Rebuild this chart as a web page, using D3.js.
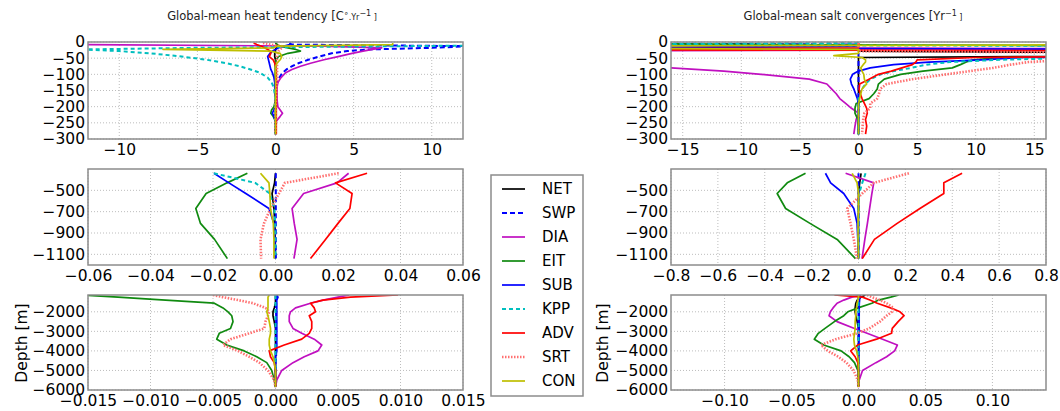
<!DOCTYPE html>
<html>
<head>
<meta charset="utf-8">
<script src="https://cdn.jsdelivr.net/npm/d3@7"></script>
<style>
  body { margin: 0; background: #fff; }
  text { font-family: "DejaVu Sans", sans-serif; }
</style>
</head>
<body>
<svg id="chart" width="1060" height="411"></svg>
<script>
// series, in legend order
const seriesNames = ["NET", "SWP", "DIA", "EIT", "SUB", "KPP", "ADV", "SRT", "CON"];

// ---- upper 300 m ----
const heatTopDepth = [-3, -8, -13, -18, -23, -28, -35, -45, -55, -65, -75, -85, -95, -110, -125, -140, -160, -180, -200, -210, -220, -230, -245, -265, -285];
const heatTop = {
  NET: [0, 0.1, 0.1, 0.05, 0, 0, -0.05, -0.05, 0, 0, 0, 0, 0, 0, 0, 0, 0, 0, 0, 0, 0, 0, 0, 0, 0],
  SWP: [0.9, 1.0, 12.5, 10, 6, 4.6, 3.6, 2.8, 2.1, 1.5, 1.05, 0.7, 0.45, 0.25, 0.12, 0.06, 0.03, 0, 0, 0, 0, 0, 0, 0, 0],
  DIA: [-13, -13, 3, 6.8, 6.2, 5.6, 4.9, 4.0, 3.1, 2.3, 1.6, 1.05, 0.65, 0.35, 0.15, 0.1, 0.1, 0.1, 0.15, 0.3, 0.45, 0.3, 0.05, 0, 0],
  EIT: [0, 0.1, 0.3, 0.8, 1.3, 1.6, 0.8, 0.2, 0.05, 0, 0, 0, 0, 0, 0, 0, 0, 0, -0.1, -0.25, -0.3, -0.15, 0, 0, 0],
  SUB: [1.0, 0.9, 0.5, 0.2, 0, -0.2, -0.35, -0.5, -0.45, -0.4, -0.35, -0.3, -0.2, -0.1, -0.05, -0.05, -0.02, 0, 0, -0.1, -0.2, -0.1, 0, 0, 0],
  KPP: [20, 20, 8, -5, -12.5, -10, -8, -6, -4.4, -3.2, -2.3, -1.6, -1.0, -0.5, -0.25, -0.12, -0.05, -0.02, 0, 0, 0, 0, 0, 0, 0],
  ADV: [-1.4, -1.2, -0.9, -0.7, -0.5, -0.35, -0.3, -0.4, -0.15, -0.05, 0, 0.05, 0.05, 0.05, 0.05, 0.05, 0.05, 0.05, 0.05, 0.05, 0.05, 0.05, 0.05, 0.05, 0.05],
  SRT: [-0.8, -0.3, 0.4, 0.4, 0.3, 0.2, 0.15, 0.1, 0.1, 0.1, 0.1, 0.1, 0.1, 0.1, 0.1, 0.05, 0.05, 0.03, 0, 0, 0, 0, 0, 0, 0],
  CON: [7.5, 7.5, 0.1, -0.1, -7.2, -0.3, 0.3, 0.4, 0.3, 0.1, 0, 0, 0, 0, 0, 0, 0, 0, 0, 0, 0, 0, 0, 0, 0]
};

const saltTopDepth = [-3, -8, -13, -18, -23, -28, -35, -42, -48, -55, -62, -70, -80, -90, -100, -115, -130, -145, -160, -175, -190, -205, -220, -240, -260, -285];
const saltTop = {
  NET: [0, 0, 0, 0, 0, 0, 30, 30, 0, 0, 0, 0, 0, 0, 0, 0, 0, 0, 0, 0, 0, 0, 0, 0, 0, 0],
  SWP: [-30, 0, 0, 0, 0, 0, 0, 0, 0, 0, 0, 0, 0, 0, 0, 0, 0, 0, 0, 0, 0, 0, 0, 0, 0, 0],
  DIA: [0, 0, 0, 0, 30, -30, -30, -30, -30, -30, -30, -22, -16, -11.5, -8.3, -4.2, -2.7, -2.3, -1.9, -1.6, -1.1, -0.6, 0, -0.2, -0.3, -0.4],
  EIT: [-30, -5, 30, 30, 30, 30, 30, 25, 12, 9.8, 9.2, 8.7, 8.0, 5.5, 3.6, 2.2, 1.7, 1.6, 1.3, 0.9, -0.2, -0.3, -0.3, -0.05, 0, 0],
  SUB: [0, 0, 0, -30, 30, 30, 30, 30, 14, 10.5, 6, 3.0, 1.0, 0, -0.5, -0.7, -0.6, -0.4, -0.25, -0.1, 0, 0, 0, 0, 0, 0],
  KPP: [0, -30, 30, 30, 30, 30, 30, 30, 20, 12, 7.8, 5.8, 4.5, 3.0, 1.9, 1.0, 0.6, 0.3, 0.1, 0, 0, 0, 0, 0, 0, 0],
  ADV: [0, 0, 0, 0, -30, 30, 30, 30, 10, 5.0, 4.9, 4.6, 3.7, 2.8, 1.7, 0.9, 0.1, 0.05, 0.15, 0.3, 0.5, 0.7, 0.75, 0.6, 0.7, 0.6],
  SRT: [0, 0, 0, 0, 0, 0, 30, 30, 25, 18, 14.5, 13, 11.5, 9.5, 7.5, 4.6, 2.4, 1.85, 1.75, 1.6, 1.0, 1.0, 0.5, 0.4, 0.35, 0.3],
  CON: [30, 30, -30, -30, 0, 0, 0, -2.1, 0.3, 0.6, 0.6, 0.4, 0.2, 0.3, 0.45, 0.5, 0.7, 0.3, 0.2, 0.1, 0, 0, 0, 0, 0, 0]
};

// ---- 300 to 1200 m ----
const midDepth = [-340, -430, -530, -670, -810, -960, -1140];
const heatMid = {
  NET: [0, -0.0003, -0.0011, -0.0005, -0.0002, -0.0001, 0],
  SWP: [0.0001, 0.0001, 0.0001, 0.0001, 0.0001, 0.0001, 0.0001],
  DIA: [0.0234, 0.0197, 0.0090, 0.0053, 0.0060, 0.0069, 0.0059],
  EIT: [-0.0090, -0.0155, -0.0222, -0.0255, -0.0240, -0.0195, -0.0154],
  SUB: [-0.0197, -0.0149, -0.0095, -0.0021, -0.0005, -0.0002, -0.0001],
  KPP: [-0.0197, -0.0065, -0.0018, -0.0004, -0.0001, 0, 0],
  ADV: [0.0293, 0.0192, 0.0245, 0.0238, 0.0200, 0.0160, 0.0112],
  SRT: [0.0202, 0.0030, 0.0011, -0.0016, -0.0037, -0.0048, -0.0046],
  CON: [-0.0048, -0.0021, -0.0018, -0.0016, -0.0007, -0.0005, -0.0005]
};
const saltMid = {
  NET: [0.011, 0.005, 0, 0, 0, 0, 0],
  SWP: [0, 0, 0, 0, 0, 0, 0],
  DIA: [-0.055, 0.065, 0.057, 0.0475, 0.038, 0.027, 0.015],
  EIT: [-0.226, -0.304, -0.347, -0.311, -0.207, -0.091, -0.013],
  SUB: [-0.141, -0.119, -0.063, -0.020, -0.006, -0.003, -0.001],
  KPP: [0.030, 0.016, 0.003, 0, 0, 0, 0],
  ADV: [0.442, 0.364, 0.364, 0.262, 0.165, 0.068, 0.016],
  SRT: [0.215, 0.065, 0.016, -0.048, -0.034, -0.020, -0.006],
  CON: [-0.027, -0.006, 0, 0, -0.002, -0.002, 0]
};

// ---- below 1140 m ----
const deepDepth = [-1140, -1250, -1400, -1560, -1800, -2000, -2200, -2500, -2850, -3100, -3400, -3700, -4000, -4300, -4600, -5000, -5500, -5850];
const heatDeep = {
  NET: [0, 0, 0, 0, -0.0001, -0.0002, -0.0002, -0.0001, 0, 0, 0, 0, 0, 0, 0, 0, 0, 0],
  SWP: [0.00005, 0.00005, 0.00005, 0.00005, 0.00005, 0.00005, 0.00005, 0.00005, 0.00005, 0.00005, 0.00005, 0.00005, 0.00005, 0.00005, 0, 0, 0, 0],
  DIA: [0.0059, 0.0050, 0.0038, 0.0028, 0.0016, 0.0012, 0.0011, 0.0011, 0.0014, 0.0021, 0.0031, 0.0037, 0.0034, 0.0023, 0.0014, 0.0005, 0.0001, 0],
  EIT: [-0.0154, -0.0126, -0.0088, -0.0049, -0.0042, -0.0038, -0.0035, -0.0034, -0.0036, -0.0045, -0.0047, -0.0039, -0.0025, -0.0015, -0.0007, -0.0003, -0.0001, 0],
  SUB: [0.0001, 0.0002, 0.0001, 0.0001, 0.0001, 0.0001, 0.0001, 0.0001, 0.0001, 0.0001, 0.0001, 0.0001, 0.0001, 0, 0, 0, 0, 0],
  KPP: [0, 0, 0, 0, 0, 0, 0, 0, 0, 0, 0, 0, 0, 0, 0, 0, 0, 0],
  ADV: [0.0098, 0.0060, 0.0038, 0.0028, 0.0031, 0.0032, 0.0027, 0.0029, 0.0029, 0.0027, 0.0021, 0.0007, -0.0005, -0.0004, -0.0001, 0, 0, 0],
  SRT: [-0.0050, -0.0042, -0.0030, -0.0018, -0.0008, -0.0005, -0.0006, -0.0008, -0.0009, -0.0021, -0.0036, -0.0042, -0.0030, -0.0021, -0.0013, -0.0006, -0.0001, 0],
  CON: [-0.0005, -0.0006, -0.0006, -0.0006, -0.0006, -0.0007, -0.0006, -0.0005, -0.0004, -0.0004, -0.0005, -0.0005, -0.0004, -0.0002, -0.0001, 0, 0, 0]
};
const saltDeep = {
  NET: [0.005, 0.002, -0.001, -0.002, -0.0025, -0.0025, -0.002, -0.001, 0, 0, 0, 0, 0, 0, 0, 0, 0, 0],
  SWP: [0, 0, 0, 0, 0, 0, 0, 0, 0, 0, 0, 0, 0, 0, 0, 0, 0, 0],
  DIA: [0.002, -0.005, -0.011, -0.016, -0.019, -0.021, -0.022, -0.016, -0.003, 0.0064, 0.018, 0.029, 0.027, 0.021, 0.013, 0.003, 0.0005, 0],
  EIT: [0.030, 0.024, 0.015, 0.010, -0.0003, -0.008, -0.011, -0.018, -0.025, -0.030, -0.033, -0.026, -0.013, -0.007, -0.003, -0.0005, 0, 0],
  SUB: [0.001, 0.001, 0.0008, 0.0006, 0.0005, 0.0005, 0.0005, 0.0005, 0.0005, 0.0005, 0.0004, 0.0003, 0.0002, 0.0001, 0, 0, 0, 0],
  KPP: [0, 0, 0, 0, 0, 0, 0, 0, 0, 0, 0, 0, 0, 0, 0, 0, 0, 0],
  ADV: [-0.018, 0.003, 0.0085, 0.014, 0.024, 0.031, 0.034, 0.0296, 0.0252, 0.0247, 0.0135, -0.0007, -0.0058, -0.0025, -0.0005, 0, 0, 0],
  SRT: [0.0065, 0.010, 0.016, 0.021, 0.026, 0.025, 0.021, 0.016, 0.008, -0.001, -0.017, -0.028, -0.023, -0.015, -0.009, -0.0037, -0.0005, 0],
  CON: [0, 0, -0.0005, -0.001, -0.0015, -0.002, -0.002, -0.0025, -0.0025, -0.003, -0.0035, -0.003, -0.0015, -0.0005, 0, 0, 0, 0]
};

// tick values
const heatTopTicks = [-10, -5, 0, 5, 10];
const heatMidTicks = [-0.06, -0.04, -0.02, 0, 0.02, 0.04, 0.06];
const heatDeepTicks = [-0.015, -0.010, -0.005, 0, 0.005, 0.010, 0.015];
const saltTopTicks = [-15, -10, -5, 0, 5, 10, 15];
const saltMidTicks = [-0.8, -0.6, -0.4, -0.2, 0, 0.2, 0.4, 0.6, 0.8];
const saltDeepTicks = [-0.10, -0.05, 0, 0.05, 0.10];
const topDepthTicks = [0, -50, -100, -150, -200, -250, -300];
const midDepthTicks = [-500, -700, -900, -1100];
const deepDepthTicks = [-2000, -3000, -4000, -5000, -6000];

const styles = {
  NET: { color: "#000000", width: 1.7, dash: null },
  SWP: { color: "#0000ff", width: 2, dash: "5,3" },
  DIA: { color: "#c010c0", width: 1.7, dash: null },
  EIT: { color: "#108a10", width: 1.7, dash: null },
  SUB: { color: "#0000ff", width: 1.7, dash: null },
  KPP: { color: "#00bfbf", width: 2, dash: "4,3" },
  ADV: { color: "#ff0000", width: 1.7, dash: null },
  SRT: { color: "#ff7070", width: 2.6, dash: "1.5,1.5" },
  CON: { color: "#bfbf00", width: 1.7, dash: null }
};

const svg = d3.select("#chart");
const cols = [[88, 463], [671, 1046]];
const rows = [[42, 139], [169, 265], [295, 390]];

const panels = [
  { col: 0, row: 0, depth: heatTopDepth, values: heatTop, xd: [-12, 12], yd: [-300, 0], xt: heatTopTicks, yt: topDepthTicks, fmt: d3.format("d") },
  { col: 0, row: 1, depth: midDepth, values: heatMid, xd: [-0.06, 0.06], yd: [-1200, -300], xt: heatMidTicks, yt: midDepthTicks, fmt: d3.format(".2f") },
  { col: 0, row: 2, depth: deepDepth, values: heatDeep, xd: [-0.015, 0.015], yd: [-6000, -1140], xt: heatDeepTicks, yt: deepDepthTicks, fmt: d3.format(".3f") },
  { col: 1, row: 0, depth: saltTopDepth, values: saltTop, xd: [-16, 16], yd: [-300, 0], xt: saltTopTicks, yt: topDepthTicks, fmt: d3.format("d") },
  { col: 1, row: 1, depth: midDepth, values: saltMid, xd: [-0.8, 0.8], yd: [-1200, -300], xt: saltMidTicks, yt: midDepthTicks, fmt: d3.format(".1f") },
  { col: 1, row: 2, depth: deepDepth, values: saltDeep, xd: [-0.14, 0.14], yd: [-6000, -1140], xt: saltDeepTicks, yt: deepDepthTicks, fmt: d3.format(".2f") }
];

panels.forEach((p, i) => {
  const [x0, x1] = cols[p.col];
  const [y0, y1] = rows[p.row];
  const x = d3.scaleLinear().domain(p.xd).range([x0, x1]);
  const y = d3.scaleLinear().domain(p.yd).range([y1, y0]);

  const clipId = "clip" + i;
  svg.append("clipPath").attr("id", clipId)
    .append("rect").attr("x", x0).attr("y", y0).attr("width", x1 - x0).attr("height", y1 - y0);

  // grid
  const grid = svg.append("g");
  grid.selectAll(".gx").data(p.xt).enter().append("line")
    .attr("x1", d => x(d)).attr("x2", d => x(d)).attr("y1", y0).attr("y2", y1)
    .attr("stroke", "#bdbdbd").attr("stroke-dasharray", "1,2").attr("stroke-width", 1);
  grid.selectAll(".gy").data(p.yt).enter().append("line")
    .attr("x1", x0).attr("x2", x1).attr("y1", d => y(d)).attr("y2", d => y(d))
    .attr("stroke", "#bdbdbd").attr("stroke-dasharray", "1,2").attr("stroke-width", 1);

  // lines
  const g = svg.append("g").attr("clip-path", `url(#${clipId})`);
  seriesNames.forEach(name => {
    const vals = p.values[name];
    const pts = p.depth.map((d, k) => [vals[k], d]);
    const line = d3.line().x(d => x(d[0])).y(d => y(d[1]));
    const s = styles[name];
    g.append("path").datum(pts)
      .attr("d", line)
      .attr("fill", "none")
      .attr("stroke", s.color)
      .attr("stroke-width", s.width)
      .attr("stroke-dasharray", s.dash)
      .attr("stroke-linejoin", "round");
  });

  // axes
  const ax = svg.append("g").attr("transform", `translate(0,${y1})`)
    .call(d3.axisBottom(x).tickValues(p.xt).tickFormat(p.fmt).tickSize(0).tickPadding(5));
  const ay = svg.append("g").attr("transform", `translate(${x0},0)`)
    .call(d3.axisLeft(y).tickValues(p.yt).tickFormat(d3.format("d")).tickSize(0).tickPadding(3));
  [ax, ay].forEach(a => {
    a.select(".domain").remove();
    a.selectAll("text").attr("font-size", 15.5).attr("fill", "#000")
      .attr("font-family", "DejaVu Sans, sans-serif");
  });

  // frame
  svg.append("rect").attr("x", x0).attr("y", y0).attr("width", x1 - x0).attr("height", y1 - y0)
    .attr("fill", "none").attr("stroke", "#8c8c8c").attr("stroke-width", 1.5);
});

// titles
function title(cx, parts) {
  const t = svg.append("text").attr("x", cx).attr("y", 20).attr("text-anchor", "middle")
    .attr("font-size", 11.5).attr("fill", "#222");
  parts.forEach(pt => {
    const ts = t.append("tspan").text(pt[0]);
    if (pt[1]) ts.attr("font-size", 8).attr("dy", pt[1]);
  });
}
title(272, [["Global-mean heat tendency [C"], ["\u2218", -4], [".Yr", 4], ["\u22121", -4], [" ]", 4]]);
title(853, [["Global-mean salt convergences [Yr"], ["\u22121", -4], [" ]", 4]]);

// depth labels
[22, 603].forEach(lx => {
  svg.append("text").attr("transform", `translate(${lx},343) rotate(-90)`)
    .attr("text-anchor", "middle").attr("dominant-baseline", "central")
    .attr("font-size", 15.5).attr("fill", "#000").text("Depth [m]");
});

// legend
const lg = svg.append("g");
lg.append("rect").attr("x", 491).attr("y", 175).attr("width", 92).attr("height", 221)
  .attr("fill", "#fff").attr("stroke", "#8c8c8c").attr("stroke-width", 1.5);
seriesNames.forEach((name, k) => {
  const s = styles[name];
  const cy = 189 + k * 24;
  lg.append("line").attr("x1", 502).attr("x2", 525).attr("y1", cy).attr("y2", cy)
    .attr("stroke", s.color).attr("stroke-width", s.width).attr("stroke-dasharray", s.dash);
  lg.append("text").attr("x", 542).attr("y", cy).attr("dominant-baseline", "central")
    .attr("font-size", 15).attr("fill", "#000").text(name);
});
</script>
</body>
</html>
